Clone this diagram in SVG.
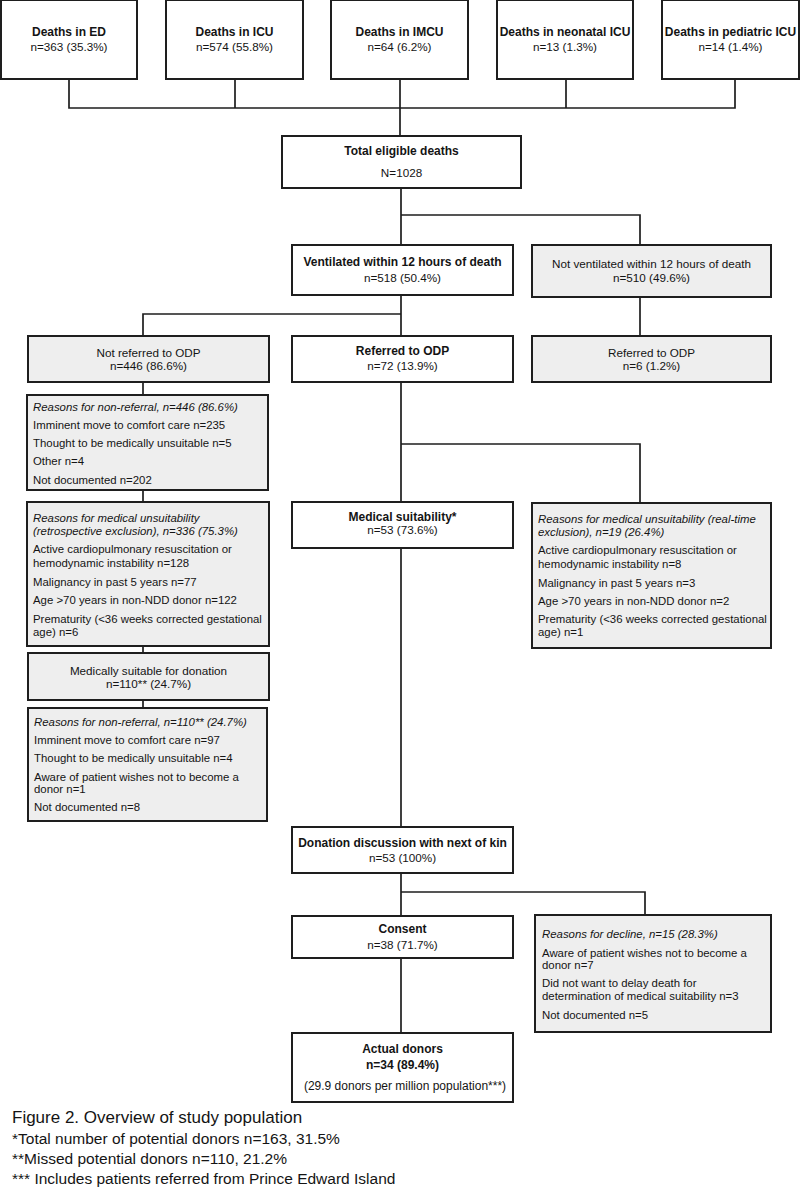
<svg xmlns="http://www.w3.org/2000/svg" width="800" height="1187" viewBox="0 0 800 1187">
<style>
text{font-family:"Liberation Sans",Arial,sans-serif;fill:#141414}
.box{fill:#fff;stroke:#1e1e1e;stroke-width:2}
.gray{fill:#eeeeee;stroke:#1e1e1e;stroke-width:2}
.b{font-size:12px;font-weight:bold;text-anchor:middle}
.n{font-size:11.7px;text-anchor:middle}
.r{font-size:11.4px}
.i{font-size:11.4px;font-style:italic}
.s{font-size:12px;text-anchor:middle}
.cap{font-size:17px}
.fn{font-size:15.5px}
.conn{fill:none;stroke:#1e1e1e;stroke-width:1.7}
</style>
<rect width="800" height="1187" fill="#fff"/>
<g id="connectors">
<path class="conn" d="M69 79V108H735V79M235 79V108M400 79V136M566 79V108"/>
<path class="conn" d="M401 188V245M401 215H640V245"/>
<path class="conn" d="M640 297V336"/>
<path class="conn" d="M401 295V336M401 314H143V336"/>
<path class="conn" d="M143 382V395M143 490V502M143 646V653M143 700V708"/>
<path class="conn" d="M401 382V502M401 444H640V503"/>
<path class="conn" d="M401 548V827"/>
<path class="conn" d="M401 873V916M401 892H645V915"/>
<path class="conn" d="M401 958V1033"/>
</g>
<g id="n_ed"><rect class="box" x="1" y="0" width="136" height="79"/><text class="b" x="69" y="36">Deaths in ED</text><text class="n" x="69" y="51">n=363 (35.3%)</text></g>
<g id="n_icu"><rect class="box" x="166" y="0" width="137" height="79"/><text class="b" x="234.5" y="36">Deaths in ICU</text><text class="n" x="234.5" y="51">n=574 (55.8%)</text></g>
<g id="n_imcu"><rect class="box" x="331" y="0" width="137" height="79"/><text class="b" x="399.5" y="36">Deaths in IMCU</text><text class="n" x="399.5" y="51">n=64 (6.2%)</text></g>
<g id="n_nicu"><rect class="box" x="497" y="0" width="136" height="79"/><text class="b" x="565" y="36">Deaths in neonatal ICU</text><text class="n" x="565" y="51">n=13 (1.3%)</text></g>
<g id="n_picu"><rect class="box" x="662" y="0" width="137" height="79"/><text class="b" x="730.5" y="36">Deaths in pediatric ICU</text><text class="n" x="730.5" y="51">n=14 (1.4%)</text></g>
<g id="n_total"><rect class="box" x="282" y="136" width="239" height="52"/><text class="b" x="401.5" y="155">Total eligible deaths</text><text class="n" x="401.5" y="177">N=1028</text></g>
<g id="n_vent"><rect class="box" x="292" y="245" width="221" height="50"/><text class="b" x="402.5" y="266">Ventilated within 12 hours of death</text><text class="n" x="402.5" y="281.5">n=518 (50.4%)</text></g>
<g id="n_notvent"><rect class="gray" x="532" y="245" width="239" height="52"/><text class="n" x="651.5" y="268">Not ventilated within 12 hours of death</text><text class="n" x="651.5" y="282">n=510 (49.6%)</text></g>
<g id="n_notref"><rect class="gray" x="28" y="336" width="241" height="46"/><text class="n" x="148.5" y="357">Not referred to ODP</text><text class="n" x="148.5" y="370">n=446 (86.6%)</text></g>
<g id="n_ref"><rect class="box" x="292" y="336" width="221" height="46"/><text class="b" x="402.5" y="355">Referred to ODP</text><text class="n" x="402.5" y="370">n=72 (13.9%)</text></g>
<g id="n_ref2"><rect class="gray" x="532" y="336" width="239" height="46"/><text class="n" x="651.5" y="357">Referred to ODP</text><text class="n" x="651.5" y="370">n=6 (1.2%)</text></g>
<g id="n_reasons446"><rect class="gray" x="27" y="395" width="241" height="95"/>
<text class="i" x="33" y="411">Reasons for non-referral, n=446 (86.6%)</text>
<text class="r" x="33" y="429">Imminent move to comfort care n=235</text>
<text class="r" x="33" y="447">Thought to be medically unsuitable n=5</text>
<text class="r" x="33" y="465">Other n=4</text>
<text class="r" x="33" y="484">Not documented n=202</text></g>
<g id="n_retro"><rect class="gray" x="27" y="502" width="242" height="144"/>
<text class="i" x="33" y="522">Reasons for medical unsuitability</text>
<text class="i" x="33" y="535">(retrospective exclusion), n=336 (75.3%)</text>
<text class="r" x="33" y="553">Active cardiopulmonary resuscitation or</text>
<text class="r" x="33" y="567">hemodynamic instability n=128</text>
<text class="r" x="33" y="586">Malignancy in past 5 years n=77</text>
<text class="r" x="33" y="604">Age &gt;70 years in non-NDD donor n=122</text>
<text class="r" x="33" y="623">Prematurity (&lt;36 weeks corrected gestational</text>
<text class="r" x="33" y="635.5">age) n=6</text></g>
<g id="n_medsuit_retro"><rect class="gray" x="28" y="653" width="241" height="47"/><text class="n" x="148.5" y="675">Medically suitable for donation</text><text class="n" x="148.5" y="687.5">n=110** (24.7%)</text></g>
<g id="n_reasons110"><rect class="gray" x="28" y="708" width="239" height="113"/>
<text class="i" x="34" y="726">Reasons for non-referral, n=110** (24.7%)</text>
<text class="r" x="34" y="744">Imminent move to comfort care n=97</text>
<text class="r" x="34" y="762">Thought to be medically unsuitable n=4</text>
<text class="r" x="34" y="781">Aware of patient wishes not to become a</text>
<text class="r" x="34" y="792.5">donor n=1</text>
<text class="r" x="34" y="811">Not documented n=8</text></g>
<g id="n_medsuit"><rect class="box" x="292" y="502" width="221" height="46"/><text class="b" x="402.5" y="521">Medical suitability*</text><text class="n" x="402.5" y="534">n=53 (73.6%)</text></g>
<g id="n_realtime"><rect class="gray" x="532" y="503" width="239" height="145"/>
<text class="i" x="538" y="523">Reasons for medical unsuitability (real-time</text>
<text class="i" x="538" y="536">exclusion), n=19 (26.4%)</text>
<text class="r" x="538" y="554">Active cardiopulmonary resuscitation or</text>
<text class="r" x="538" y="568">hemodynamic instability n=8</text>
<text class="r" x="538" y="587">Malignancy in past 5 years n=3</text>
<text class="r" x="538" y="605">Age &gt;70 years in non-NDD donor n=2</text>
<text class="r" x="538" y="623">Prematurity (&lt;36 weeks corrected gestational</text>
<text class="r" x="538" y="636">age) n=1</text></g>
<g id="n_discussion"><rect class="box" x="292" y="827" width="221" height="46"/><text class="b" x="402.5" y="846.5">Donation discussion with next of kin</text><text class="n" x="402.5" y="862">n=53 (100%)</text></g>
<g id="n_consent"><rect class="box" x="292" y="916" width="221" height="42"/><text class="b" x="402.5" y="932.5">Consent</text><text class="n" x="402.5" y="948.5">n=38 (71.7%)</text></g>
<g id="n_decline"><rect class="gray" x="535" y="915" width="236" height="117"/>
<text class="i" x="542" y="937.5">Reasons for decline, n=15 (28.3%)</text>
<text class="r" x="542" y="956.5">Aware of patient wishes not to become a</text>
<text class="r" x="542" y="968.5">donor n=7</text>
<text class="r" x="542" y="987">Did not want to delay death for</text>
<text class="r" x="542" y="1000">determination of medical suitability n=3</text>
<text class="r" x="542" y="1019">Not documented n=5</text></g>
<g id="n_donors"><rect class="box" x="292" y="1033" width="221" height="69"/><text class="b" x="402.5" y="1053">Actual donors</text><text class="b" x="402.5" y="1069">n=34 (89.4%)</text><text class="s" x="405" y="1090">(29.9 donors per million population***)</text></g>
<g id="caption">
<text class="cap" x="12" y="1122.5">Figure 2. Overview of study population</text>
<text class="fn" x="12" y="1144">*Total number of potential donors n=163, 31.5%</text>
<text class="fn" x="12" y="1164">**Missed potential donors n=110, 21.2%</text>
<text class="fn" x="12" y="1184">*** Includes patients referred from Prince Edward Island</text>
</g>
</svg>
